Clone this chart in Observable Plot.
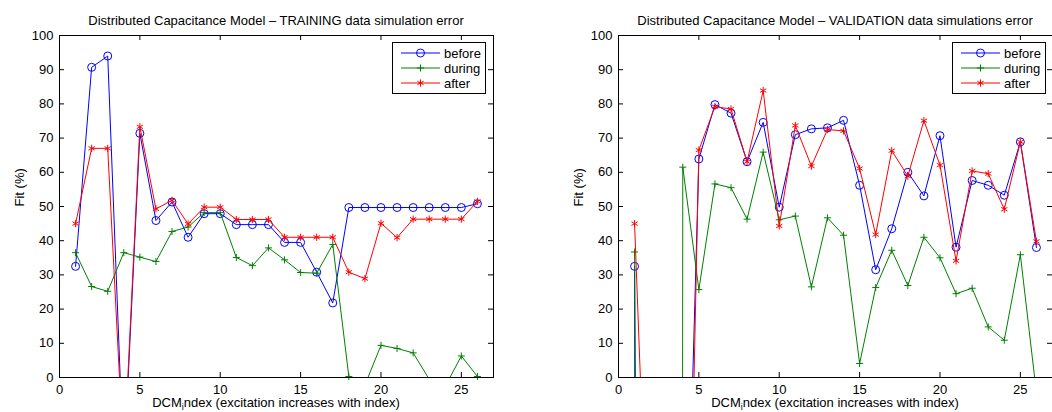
<!DOCTYPE html>
<html><head><meta charset="utf-8">
<script src="https://cdn.jsdelivr.net/npm/d3@7"></script>
<script src="https://cdn.jsdelivr.net/npm/@observablehq/plot@0.6"></script>
<style>
body{margin:0;background:#fff;font-family:"Liberation Sans",Arial,Helvetica,sans-serif;color:#000;}
#fig{position:relative;width:1052px;height:412px;overflow:hidden;display:flex;}
.panel{position:relative;width:526px;height:412px;flex:none;}
.title{height:27px;box-sizing:border-box;padding-top:13px;line-height:15px;font-size:13px;text-align:center;white-space:nowrap;}
.xlabel{font-size:13px;text-align:center;line-height:14px;white-space:nowrap;}
.xlabel sub{font-size:9px;vertical-align:-3px;line-height:0;}
.legend{position:absolute;}
svg{display:block;}
</style></head><body><div id="fig"></div>
<script>
// ---- data ----
const dcmIndex = [1,2,3,4,5,6,7,8,9,10,11,12,13,14,15,16,17,18,19,20,21,22,23,24,25,26];
const xTicks = [0,5,10,15,20,25];
const yTicks = [0,10,20,30,40,50,60,70,80,90,100];
const seriesNames = ["before","during","after"];

const trainBefore = [32.5,90.7,94.0,-27,71.4,45.9,51.3,41.0,47.9,47.9,44.7,44.7,44.7,39.5,39.5,30.8,21.8,49.7,49.7,49.7,49.7,49.7,49.7,49.7,49.7,50.8];
const trainDuring = [36.5,26.6,25.2,36.5,35.2,33.9,42.7,44.0,48.2,48.2,35.1,32.7,37.9,34.4,30.7,30.5,38.9,0.3,-2.2,9.4,8.5,7.2,-0.5,-2.6,6.3,0.3];
const trainAfter  = [45.0,67.0,67.0,-24.5,73.3,49.3,51.8,44.9,49.8,49.8,46.2,46.2,46.2,41.0,41.0,41.0,41.0,30.8,28.9,45.1,40.9,46.3,46.3,46.3,46.3,51.5];

const valBefore = [32.5,-3000,-1000,-104,63.9,79.8,77.3,63.1,74.6,49.8,71.0,72.7,73.0,75.2,56.2,31.5,43.5,60.0,53.1,70.7,38.1,57.6,56.2,53.3,68.9,38.0];
const valDuring = [36.7,-600,-5000,61.5,25.7,56.6,55.5,46.3,65.9,46.1,47.2,26.5,46.7,41.6,4.1,26.3,37.2,26.9,41.0,35.0,24.5,26.1,14.8,10.9,35.9,-4.5];
const valAfter  = [45.0,-80,-300,-155,66.5,79.2,78.5,63.1,83.9,44.3,73.7,61.8,72.5,72.1,61.1,41.8,66.3,58.9,75.1,62.1,34.1,60.4,59.6,49.2,68.9,39.8];

const titles = [
  "Distributed Capacitance Model \u2013 TRAINING data simulation error",
  "Distributed Capacitance Model \u2013 VALIDATION data simulations error"
];
const yLabel = "Fit (%)";

// ---- styles ----
const styleOf = {
  before: {color: "#0000ff", symbol: "circle", r: 4},
  during: {color: "#008000", symbol: "plus", r: 2.4},
  after:  {color: "#ff0000", symbol: "asterisk", r: 3.4}
};

const panels = [
  {title: titles[0], values: {before: trainBefore, during: trainDuring, after: trainAfter}, marginLeft: 59, marginRight: 33, legendLeft: 392},
  {title: titles[1], values: {before: valBefore, during: valDuring, after: valAfter}, marginLeft: 92, marginRight: 0, legendLeft: 425.5}
];

const W = 526, marginTop = 8, frameH = 342, marginBottom = 19, tickLen = 5;
const H = marginTop + frameH + marginBottom;
const FONT = '"Liberation Sans", Arial, sans-serif';

const fig = document.getElementById("fig");
for (const p of panels) {
  const frameW = W - p.marginLeft - p.marginRight;
  const panel = document.createElement("div");
  panel.className = "panel";
  const t = document.createElement("div");
  t.className = "title";
  t.style.paddingLeft = p.marginLeft + "px";
  t.style.width = (p.marginLeft + frameW) + "px";
  t.style.boxSizing = "border-box";
  t.textContent = p.title;
  panel.appendChild(t);

  const marks = [];
  for (const s of seriesNames) {
    const data = dcmIndex.map((x, i) => ({x, y: p.values[s][i]}));
    const st = styleOf[s];
    marks.push(Plot.line(data, {x: "x", y: "y", stroke: st.color, strokeWidth: 1, clip: true}));
    marks.push(Plot.dot(data.filter(d => d.y >= 0 && d.y <= 100), {x: "x", y: "y", symbol: st.symbol, r: st.r, stroke: st.color, fill: "none", strokeWidth: 1}));
  }
  // inward ticks (box style)
  marks.push(Plot.tickX(xTicks, {x: d => d, insetTop: frameH - tickLen, stroke: "#000"}));
  marks.push(Plot.tickX(xTicks, {x: d => d, insetBottom: frameH - tickLen, stroke: "#000"}));
  marks.push(Plot.tickY(yTicks, {y: d => d, insetRight: frameW - tickLen, stroke: "#000"}));
  marks.push(Plot.tickY(yTicks, {y: d => d, insetLeft: frameW - tickLen, stroke: "#000"}));
  marks.push(Plot.frame({stroke: "#000", strokeWidth: 1}));
  marks.push(Plot.axisX(xTicks, {tickSize: 0, tickPadding: 7, label: null, fill: "#000"}));
  marks.push(Plot.axisY(yTicks, {tickSize: 0, tickPadding: 6, label: null, fill: "#000"}));
  marks.push(Plot.text([yLabel], {text: d => d, frameAnchor: "left", rotate: -90, dx: -40, fill: "#000", fontSize: 13}));

  const chart = Plot.plot({
    width: W, height: H,
    marginLeft: p.marginLeft, marginRight: p.marginRight, marginTop, marginBottom,
    x: {domain: [0, 27], label: null},
    y: {domain: [0, 100], label: null},
    style: {fontFamily: FONT, fontSize: "13px", color: "#000", background: "transparent", overflow: "visible"},
    marks
  });
  panel.appendChild(chart);

  const xl = document.createElement("div");
  xl.className = "xlabel";
  xl.style.paddingLeft = p.marginLeft + "px";
  xl.style.width = (p.marginLeft + frameW) + "px";
  xl.style.boxSizing = "border-box";
  xl.innerHTML = "DCM<sub>i</sub>ndex (excitation increases with index)";
  panel.appendChild(xl);

  // legend
  const lw = 94, lh = 52;
  const leg = d3.create("svg").attr("width", lw).attr("height", lh).attr("class", "legend")
    .style("left", p.legendLeft + "px").style("top", "42px");
  leg.append("rect").attr("x", 0.5).attr("y", 0.5).attr("width", lw - 1).attr("height", lh - 1)
    .attr("fill", "#fff").attr("stroke", "#000").attr("stroke-width", 1);
  const symMap = {circle: d3.symbolCircle, plus: d3.symbolPlus, asterisk: d3.symbolAsterisk};
  seriesNames.forEach((s, i) => {
    const st = styleOf[s];
    const cy = 11 + i * 15;
    const g = leg.append("g");
    g.append("line").attr("x1", 9).attr("x2", 48).attr("y1", cy).attr("y2", cy).attr("stroke", st.color).attr("stroke-width", 1);
    g.append("path").attr("d", d3.symbol(symMap[st.symbol], Math.PI * st.r * st.r)()).attr("transform", `translate(28.5,${cy})`)
      .attr("fill", "none").attr("stroke", st.color).attr("stroke-width", 1);
    g.append("text").attr("x", 52).attr("y", cy).attr("dy", "0.35em").attr("font-size", 13)
      .attr("font-family", FONT).attr("fill", "#000").text(s);
  });
  panel.appendChild(leg.node());
  fig.appendChild(panel);
}
</script>
</body></html>
